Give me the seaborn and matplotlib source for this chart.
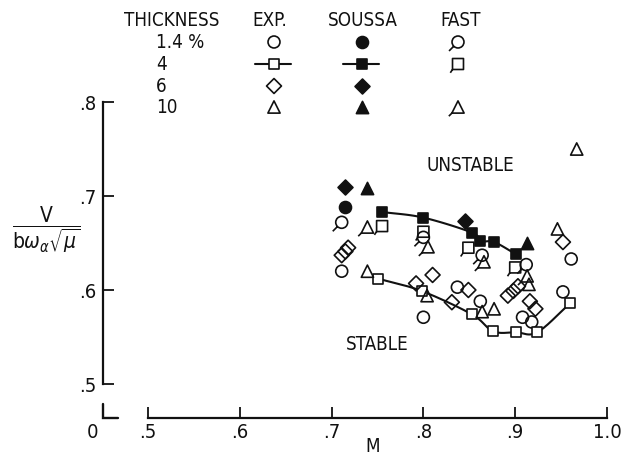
import numpy as np
import pandas as pd
import matplotlib
matplotlib.use("Agg")
import matplotlib.pyplot as plt
from matplotlib.path import Path
import seaborn as sns

# ---------------------------------------------------------------- data
thickness_labels = ["1.4 %", "4", "6", "10"]
mach_ticks = [0.5, 0.6, 0.7, 0.8, 0.9, 1.0]
mach_tick_labels = [".5", ".6", ".7", ".8", ".9", "1.0"]
speed_ticks = [0.5, 0.6, 0.7, 0.8]
speed_tick_labels = [".5", ".6", ".7", ".8"]

# SOUSSA theory (filled symbols)
soussa_14_M = [0.715]
soussa_14_V = [0.688]
soussa_4_M = [0.755, 0.800, 0.853, 0.862, 0.877, 0.901]
soussa_4_V = [0.683, 0.677, 0.661, 0.652, 0.651, 0.638]
soussa_6_M = [0.715, 0.845]
soussa_6_V = [0.710, 0.673]
soussa_10_M = [0.739, 0.913]
soussa_10_V = [0.709, 0.650]

# FAST theory (flagged symbols)
fast_14_M = [0.711, 0.800, 0.864, 0.912]
fast_14_V = [0.672, 0.656, 0.637, 0.627]
fast_4_M = [0.755, 0.800, 0.849, 0.900]
fast_4_V = [0.668, 0.662, 0.645, 0.624]
fast_10_M = [0.739, 0.805, 0.866, 0.913]
fast_10_V = [0.667, 0.646, 0.630, 0.615]

# Experiment (open symbols)
exp_14_M = [0.711, 0.800, 0.837, 0.862, 0.908, 0.918, 0.952, 0.961]
exp_14_V = [0.620, 0.571, 0.603, 0.588, 0.571, 0.566, 0.598, 0.633]
exp_4_M = [0.751, 0.798, 0.853, 0.876, 0.901, 0.924, 0.960]
exp_4_V = [0.612, 0.599, 0.574, 0.556, 0.555, 0.555, 0.586]
exp_6_M = [0.711, 0.715, 0.718, 0.792, 0.810, 0.849, 0.831, 0.892, 0.898,
           0.903, 0.916, 0.922, 0.952]
exp_6_V = [0.637, 0.641, 0.645, 0.607, 0.616, 0.600, 0.587, 0.594, 0.599,
           0.604, 0.588, 0.580, 0.651]
exp_10_M = [0.739, 0.804, 0.864, 0.877, 0.946, 0.967, 0.915]
exp_10_V = [0.620, 0.594, 0.577, 0.580, 0.665, 0.750, 0.606]

# ---------------------------------------------------------------- style
sns.set_theme(style="white")
FONT = ["Liberation Sans Narrow", "DejaVu Sans"]
plt.rcParams["font.family"] = FONT
plt.rcParams["font.stretch"] = "condensed"
plt.rcParams["mathtext.fontset"] = "dejavusans"
INK = "#111111"
FS = 13.5
FS_TICK = 14.5

W, H = 623, 456
fig = plt.figure(figsize=(W / 100, H / 100), dpi=100)
fig.patch.set_facecolor("white")

# plotting axes: left spine at x=103 px, bottom spine at y=419 px
ax_l, ax_r, ax_t, ax_b = 103, 615, 60, 419
ax = fig.add_axes([ax_l / W, 1 - ax_b / H, (ax_r - ax_l) / W, (ax_b - ax_t) / H])
px_per_M = 918.0
px_per_V = 940.0
ax.set_xlim(0.5 - (148 - ax_l) / px_per_M, 0.5 + (ax_r - 148) / px_per_M)
ax.set_ylim(0.8 - (ax_b - 103) / px_per_V, 0.8 + (103 - ax_t) / px_per_V)
ax.patch.set_alpha(0)


# ---------------------------------------------------------------- markers
def _with_tail(verts, codes, start, end=(-1.5, -1.5)):
    return Path(list(verts) + [start, end],
                list(codes) + [Path.MOVETO, Path.LINETO])


_circ = Path.unit_circle()
CIRCLE_TAIL = _with_tail(_circ.vertices, _circ.codes, (-0.707, -0.707))
SQUARE_TAIL = _with_tail([(-1, -1), (1, -1), (1, 1), (-1, 1), (-1, -1)],
                         [Path.MOVETO, Path.LINETO, Path.LINETO, Path.LINETO,
                          Path.CLOSEPOLY], (-1, -1), (-1.4, -1.6))
TRI_TAIL = _with_tail([(0, 1), (-1, -1), (1, -1), (0, 1)],
                      [Path.MOVETO, Path.LINETO, Path.LINETO, Path.CLOSEPOLY],
                      (-1, -1))

MS_CIRCLE, MS_SQUARE, MS_DIAMOND, MS_TRI = 8.6, 7.9, 7.6, 8.8
LW = 1.2

exp_style = {
    "1.4": dict(marker="o", s=MS_CIRCLE ** 2, facecolor="none"),
    "4": dict(marker="s", s=MS_SQUARE ** 2, facecolor="white"),
    "6": dict(marker="D", s=MS_DIAMOND ** 2, facecolor="none"),
    "10": dict(marker="^", s=MS_TRI ** 2, facecolor="none"),
}
soussa_style = {
    "1.4": dict(marker="o", s=MS_CIRCLE ** 2, facecolor=INK),
    "4": dict(marker="s", s=MS_SQUARE ** 2, facecolor=INK),
    "6": dict(marker="D", s=MS_DIAMOND ** 2, facecolor=INK),
    "10": dict(marker="^", s=MS_TRI ** 2, facecolor=INK),
}
fast_style = {
    "1.4": dict(marker=CIRCLE_TAIL, s=(1.5 * MS_CIRCLE) ** 2, facecolor="none"),
    "4": dict(marker=SQUARE_TAIL, s=(1.6 * MS_SQUARE) ** 2, facecolor="none"),
    "10": dict(marker=TRI_TAIL, s=(1.5 * MS_TRI) ** 2, facecolor="none"),
}

groups = [
    ("EXP.", "1.4", exp_14_M, exp_14_V), ("EXP.", "4", exp_4_M, exp_4_V),
    ("EXP.", "6", exp_6_M, exp_6_V), ("EXP.", "10", exp_10_M, exp_10_V),
    ("FAST", "1.4", fast_14_M, fast_14_V), ("FAST", "4", fast_4_M, fast_4_V),
    ("FAST", "10", fast_10_M, fast_10_V),
    ("SOUSSA", "1.4", soussa_14_M, soussa_14_V), ("SOUSSA", "4", soussa_4_M, soussa_4_V),
    ("SOUSSA", "6", soussa_6_M, soussa_6_V), ("SOUSSA", "10", soussa_10_M, soussa_10_V),
]
df = pd.concat([pd.DataFrame({"M": m, "V": v, "source": src, "thickness": th})
                for src, th, m, v in groups], ignore_index=True)
styles = {"EXP.": exp_style, "SOUSSA": soussa_style, "FAST": fast_style}


# ---------------------------------------------------------------- faired curves
def catmull_rom(xs, ys, n=24):
    p = np.column_stack([xs, ys])
    p = np.vstack([2 * p[0] - p[1], p, 2 * p[-1] - p[-2]])
    out = []
    t = np.linspace(0, 1, n)[:, None]
    for i in range(1, len(p) - 2):
        p0, p1, p2, p3 = p[i - 1], p[i], p[i + 1], p[i + 2]
        seg = 0.5 * ((2 * p1) + (-p0 + p2) * t + (2 * p0 - 5 * p1 + 4 * p2 - p3) * t ** 2
                     + (-p0 + 3 * p1 - 3 * p2 + p3) * t ** 3)
        out.append(seg if i == 1 else seg[1:])
    out = np.vstack(out)
    return out[:, 0], out[:, 1]


for mx, vy in [(soussa_4_M, soussa_4_V), (exp_4_M, exp_4_V)]:
    cx, cy = catmull_rom(mx, vy)
    sns.lineplot(x=cx, y=cy, sort=False, estimator=None, color=INK, lw=1.5,
                 ax=ax, zorder=2)

# ---------------------------------------------------------------- symbols
for (src, th), sub in df.groupby(["source", "thickness"], sort=False):
    st = dict(styles[src][th])
    sns.scatterplot(data=sub, x="M", y="V", ax=ax, color=INK, edgecolor=INK,
                    linewidth=LW, zorder=4 if src == "SOUSSA" else 3, legend=False, **st)

# ---------------------------------------------------------------- axes styling
for side in ["top", "right"]:
    ax.spines[side].set_visible(False)
for side in ["left", "bottom"]:
    ax.spines[side].set_color(INK)
    ax.spines[side].set_linewidth(1.6)
ax.spines["left"].set_bounds(0.5, 0.8)
ax.spines["bottom"].set_bounds(0.5, 1.0)
ax.set_xticks(mach_ticks, mach_tick_labels)
ax.set_yticks(speed_ticks, speed_tick_labels)
ax.tick_params(axis="both", direction="in", length=8, width=1.3, color=INK,
               labelsize=FS_TICK, labelcolor=INK, bottom=True, left=True)
ax.tick_params(axis="x", pad=3)
ax.tick_params(axis="y", pad=5)
ax.set_xlabel("")
ax.set_ylabel("")
ax.grid(False)
# broken-axis corner at the origin
ax.plot([0, 0, 0.03], [0.04, 0, 0], transform=ax.transAxes, color=INK,
        lw=1.7, clip_on=False, solid_joinstyle="miter")

ax.text(0.851, 0.734, "UNSTABLE", ha="center", va="center", fontsize=FS, color=INK)
ax.text(0.750, 0.543, "STABLE", ha="center", va="center", fontsize=FS, color=INK)

# ---------------------------------------------------------------- overlay (pixel coordinates)
lay = fig.add_axes([0, 0, 1, 1])
lay.set_xlim(0, W)
lay.set_ylim(H, 0)
lay.axis("off")
lay.patch.set_alpha(0)

lay.text(92, 433, "0", ha="center", va="center", fontsize=FS_TICK, color=INK)
lay.text(373, 447, "M", ha="center", va="center", fontsize=FS, color=INK)
lay.text(46, 230, r"$\dfrac{\mathregular{V}}{\mathregular{b}\omega_{\alpha}\sqrt{\mu}}$",
         ha="center", va="center", fontsize=15, color=INK)

# key table
hdr_y = 20
lay.text(172, hdr_y, "THICKNESS", ha="center", va="center", fontsize=FS, color=INK)
col_x = {"EXP.": 274, "SOUSSA": 362, "FAST": 458}
hdr_x = {"EXP.": 270, "SOUSSA": 363, "FAST": 461}
for name in ["EXP.", "SOUSSA", "FAST"]:
    lay.text(hdr_x[name], hdr_y, name, ha="center", va="center", fontsize=FS, color=INK)

row_y = [43, 65, 87, 108]
keys = ["1.4", "4", "6", "10"]
for lab, key, y in zip(thickness_labels, keys, row_y):
    lay.text(156, y, lab, ha="left", va="center", fontsize=FS, color=INK)
    for name in ["EXP.", "SOUSSA", "FAST"]:
        st = styles[name].get(key)
        if st is None:
            continue
        x = col_x[name]
        if key == "4" and name != "FAST":
            lay.plot([x - 19, x + 17], [y, y], color=INK, lw=1.5, zorder=2)
        lay.scatter([x], [y], marker=st["marker"], s=st["s"], facecolor=st["facecolor"],
                    edgecolor=INK, linewidth=LW, zorder=3)

fig.savefig("out.png", dpi=100)
